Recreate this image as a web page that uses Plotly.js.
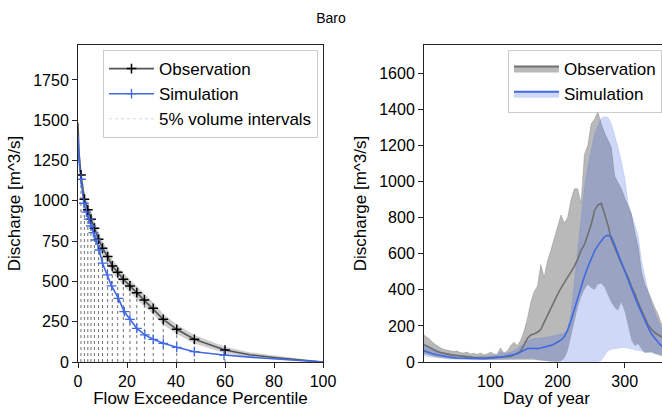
<!DOCTYPE html>
<html><head><meta charset="utf-8">
<script src="https://cdn.plot.ly/plotly-3.0.1.min.js"></script>
<style>html,body{margin:0;padding:0;overflow:hidden;background:#fff;width:662px;height:408px}#chart{width:700px;height:408px}</style>
</head><body><div id="chart"></div>
<script>
// ---------- Left: flow duration curve ----------
const obsCurveP = [0, 0.4, 1.2, 2.6, 4.0, 5.3, 6.7, 8.4, 10.0, 12.1, 14.0, 16.2, 18.5, 21.2, 24.0, 27.1, 30.7, 34.8, 40.3, 47.5, 60, 70, 80, 90, 100];
const obsCurveQ = [1480, 1300, 1161, 1010, 944, 886, 830, 762, 706, 654, 596, 557, 513, 472, 430, 385, 333, 265, 203, 141, 74, 45, 28, 14, 0];
const obsBandHi = [1540, 1360, 1215, 1060, 992, 932, 875, 806, 749, 696, 637, 597, 553, 512, 470, 423, 369, 299, 233, 167, 94, 61, 40, 22, 3];
const obsBandLo = [1420, 1240, 1107, 960, 896, 840, 785, 718, 663, 612, 555, 517, 473, 432, 390, 347, 297, 231, 173, 115, 54, 29, 16, 6, 0];
const simCurveP = [0, 0.4, 1.2, 2.4, 3.4, 4.4, 5.3, 6.3, 7.3, 8.7, 10.0, 12.0, 13.7, 16.5, 18.9, 21.2, 24.0, 27.3, 30.7, 34.8, 40.3, 47.5, 59.6, 70, 80, 90, 100];
const simCurveQ = [1400, 1250, 1134, 985, 930, 886, 844, 803, 757, 695, 613, 540, 472, 395, 312, 265, 209, 168, 141, 116, 91, 64, 43, 30, 20, 10, 0];
const obsMarkP = [1.2, 2.6, 4.0, 5.3, 6.7, 8.4, 10.0, 12.1, 14.0, 16.2, 18.5, 21.2, 24.0, 27.1, 30.7, 34.8, 40.3, 47.5, 60];
const obsMarkQ = [1161, 1010, 944, 886, 830, 762, 706, 654, 596, 557, 513, 472, 430, 385, 333, 265, 203, 141, 74];
const simMarkP = [1.2, 2.4, 3.4, 4.4, 5.3, 6.3, 7.3, 8.7, 10.0, 12.0, 13.7, 16.5, 18.9, 21.2, 24.0, 27.3, 30.7, 34.8, 40.3, 47.5, 59.6];
const simMarkQ = [1134, 985, 930, 886, 844, 803, 757, 695, 613, 540, 472, 395, 312, 265, 209, 168, 141, 116, 91, 64, 43];

// ---------- Right: seasonal regime ----------
const days = [1,5,10,15,20,25,30,35,40,45,50,55,60,65,70,75,80,85,90,95,100,105,110,115,120,125,130,135,140,145,150,155,160,165,170,175,180,185,190,195,200,205,210,215,220,225,230,235,240,245,250,255,260,265,270,275,280,285,290,295,300,305,310,315,320,325,330,335,340,345,350,355,360,365];
const obsMed = [96,88,78,67,59,53,48,44,41,38,35,33,31,29,27,25,23,22,22,23,24,25,26,27,28,30,31,38,48,60,95,130,150,155,165,180,220,260,300,340,375,410,440,470,500,530,570,620,650,700,760,840,870,880,820,760,680,630,590,545,510,470,420,380,330,290,245,205,180,162,150,140,125,110];
const obsLo = [45,40,35,30,27,24,22,20,18,17,16,15,14,13,12,12,12,12,12,12,12,12,12,12,12,13,14,15,16,16,16,15,14,12,10,8,6,4,3,2,2,5,20,60,140,220,300,360,400,430,410,400,430,435,415,370,330,300,285,330,280,200,120,90,100,70,50,52,55,45,38,32,35,40];
const obsHi = [150,140,125,105,90,80,70,65,60,58,62,52,50,55,45,48,42,50,40,45,55,45,42,78,50,60,90,110,90,120,170,240,330,390,420,540,470,560,620,690,760,815,770,800,900,960,960,880,1150,1200,1320,1345,1388,1320,1270,1230,1190,1030,990,960,910,860,820,720,640,500,430,390,340,300,260,210,180,155];
const simMed = [62,56,50,44,40,36,32,29,26,24,22,21,20,19,18,18,18,18,18,19,20,22,24,27,30,33,36,40,46,55,66,74,76,75,74,78,82,86,92,100,110,122,140,177,230,290,360,420,475,525,575,615,645,672,695,703,694,650,600,550,500,455,408,360,315,270,228,190,155,128,108,88,75,66];
const simLo = [30,28,25,22,20,18,16,15,14,13,12,12,11,11,10,10,10,10,10,10,10,11,12,13,14,15,16,17,18,20,22,22,20,16,12,8,5,3,2,1,0,0,0,0,0,0,0,0,0,0,0,0,0,5,30,60,68,72,75,78,78,76,70,65,60,58,55,52,50,46,43,40,37,34];
const simHi = [100,95,85,75,65,58,52,47,43,40,37,35,33,32,31,30,30,30,30,31,32,34,37,55,44,48,55,62,72,90,100,115,125,130,130,133,135,138,140,145,150,155,160,180,260,440,620,800,960,1080,1180,1260,1310,1350,1360,1355,1320,1260,1190,1110,1018,880,820,770,700,560,470,390,320,270,225,185,140,115];

const W = 700, H = 408, T = 45, B = 46;
const BLUE = '#4169E1';
const FONT = 'Liberation Sans, Arial, sans-serif';

// vertical 5% volume interval lines built from the observation marker arrays
function vlines(px, qy) {
  const x = [], y = [];
  for (let i = 0; i < px.length; i++) { x.push(px[i], px[i], null); y.push(0, qy[i], null); }
  return {x, y};
}
const vo = vlines(obsMarkP, obsMarkQ);

const traces = [
  {x: obsCurveP, y: obsBandLo, mode: 'lines', line: {width: 0}, showlegend: false, hoverinfo: 'skip'},
  {x: obsCurveP, y: obsBandHi, mode: 'lines', line: {width: 0}, fill: 'tonexty', fillcolor: 'rgba(128,128,128,0.38)', showlegend: false},
  {x: vo.x, y: vo.y, mode: 'lines', line: {color: 'rgba(0,0,0,0.7)', width: 0.8, dash: 'dot'}, showlegend: false},
  {x: obsCurveP, y: obsCurveQ, mode: 'lines', line: {color: '#555', width: 1.6}, showlegend: false},
  {x: simCurveP, y: simCurveQ, mode: 'lines', line: {color: BLUE, width: 1.6}, showlegend: false},
  {x: obsMarkP, y: obsMarkQ, mode: 'markers', marker: {symbol: 'cross-thin', size: 7, line: {color: '#000', width: 1.5}}, showlegend: false},
  {x: simMarkP, y: simMarkQ, mode: 'markers', marker: {symbol: 'cross-thin', size: 7, line: {color: BLUE, width: 1.3}}, showlegend: false},
  {x: [null], y: [null], name: 'Observation', mode: 'lines+markers', line: {color: '#555', width: 1.6}, marker: {symbol: 'cross-thin', size: 7, line: {color: '#000', width: 1.5}}, legend: 'legend'},
  {x: [null], y: [null], name: 'Simulation', mode: 'lines+markers', line: {color: BLUE, width: 1.6}, marker: {symbol: 'cross-thin', size: 7, line: {color: BLUE, width: 1.3}}, legend: 'legend'},
  {x: [null], y: [null], name: '5% volume intervals', mode: 'lines', line: {color: 'rgba(0,0,0,0.2)', width: 0.8, dash: 'dot'}, legend: 'legend'},

  {x: days, y: obsLo, xaxis: 'x2', yaxis: 'y2', mode: 'lines', line: {width: 0}, showlegend: false},
  {x: days, y: obsHi, xaxis: 'x2', yaxis: 'y2', mode: 'lines', line: {width: 0.6, color: 'rgba(100,100,100,0.5)'}, fill: 'tonexty', fillcolor: 'rgba(100,100,100,0.45)', showlegend: false},
  {x: days, y: simLo, xaxis: 'x2', yaxis: 'y2', mode: 'lines', line: {width: 0}, showlegend: false},
  {x: days, y: simHi, xaxis: 'x2', yaxis: 'y2', mode: 'lines', line: {width: 0.6, color: 'rgba(65,105,225,0.3)'}, fill: 'tonexty', fillcolor: 'rgba(65,105,225,0.25)', showlegend: false},
  {x: days, y: obsMed, xaxis: 'x2', yaxis: 'y2', mode: 'lines', line: {color: '#707070', width: 1.6}, showlegend: false},
  {x: days, y: simMed, xaxis: 'x2', yaxis: 'y2', mode: 'lines', line: {color: BLUE, width: 1.6}, showlegend: false},
  {x: [null], y: [null], xaxis: 'x2', yaxis: 'y2', name: 'Observation', mode: 'lines', fill: 'toself', fillcolor: 'rgba(100,100,100,0.45)', line: {color: '#707070', width: 2}, legend: 'legend2'},
  {x: [null], y: [null], xaxis: 'x2', yaxis: 'y2', name: 'Simulation', mode: 'lines', fill: 'toself', fillcolor: 'rgba(65,105,225,0.25)', line: {color: BLUE, width: 2}, legend: 'legend2'}
];

const ax = {
  showline: true, mirror: true, linecolor: '#222', linewidth: 1,
  ticks: 'outside', ticklen: 5, tickcolor: '#222', tickwidth: 1,
  showgrid: false, zeroline: false,
  tickfont: {family: FONT, size: 16, color: '#000'},
  title: {font: {family: FONT, size: 17, color: '#000'}}
};
const legendCommon = {
  font: {family: FONT, size: 17, color: '#000'},
  bgcolor: 'rgba(255,255,255,0.8)', bordercolor: '#ccc', borderwidth: 1,
  xanchor: 'left', yanchor: 'top', yref: 'paper', xref: 'paper',
  traceorder: 'normal', itemwidth: 45
};

const layout = {
  width: W, height: H,
  margin: {l: 0, r: 0, t: T, b: B},
  paper_bgcolor: '#fff', plot_bgcolor: '#fff',
  showlegend: true,
  title: {text: 'Baro', font: {family: FONT, size: 14, color: '#000'}, x: 331 / W, xanchor: 'center', xref: 'container', y: 1 - 18 / H, yanchor: 'middle', yref: 'container'},
  xaxis: Object.assign({}, ax, {domain: [78 / W, 323 / W], range: [0, 100], tickvals: [0, 20, 40, 60, 80, 100], title: Object.assign({}, ax.title, {text: 'Flow Exceedance Percentile', standoff: 6})}),
  yaxis: Object.assign({}, ax, {range: [0, 1967], tickvals: [0, 250, 500, 750, 1000, 1250, 1500, 1750], title: Object.assign({}, ax.title, {text: 'Discharge [m^3/s]', standoff: 8})}),
  xaxis2: Object.assign({}, ax, {anchor: 'y2', domain: [424 / W, 669 / W], range: [1, 366], tickvals: [100, 200, 300], title: Object.assign({}, ax.title, {text: 'Day of year', standoff: 6})}),
  yaxis2: Object.assign({}, ax, {anchor: 'x2', range: [0, 1757], tickvals: [0, 200, 400, 600, 800, 1000, 1200, 1400, 1600], title: Object.assign({}, ax.title, {text: 'Discharge [m^3/s]', standoff: 8})}),
  legend: Object.assign({}, legendCommon, {x: 103 / W, y: 0.984}),
  legend2: Object.assign({}, legendCommon, {x: 508 / W, y: 0.984})
};

Plotly.newPlot('chart', traces, layout, {staticPlot: true, displayModeBar: false});
</script>
</body></html>
